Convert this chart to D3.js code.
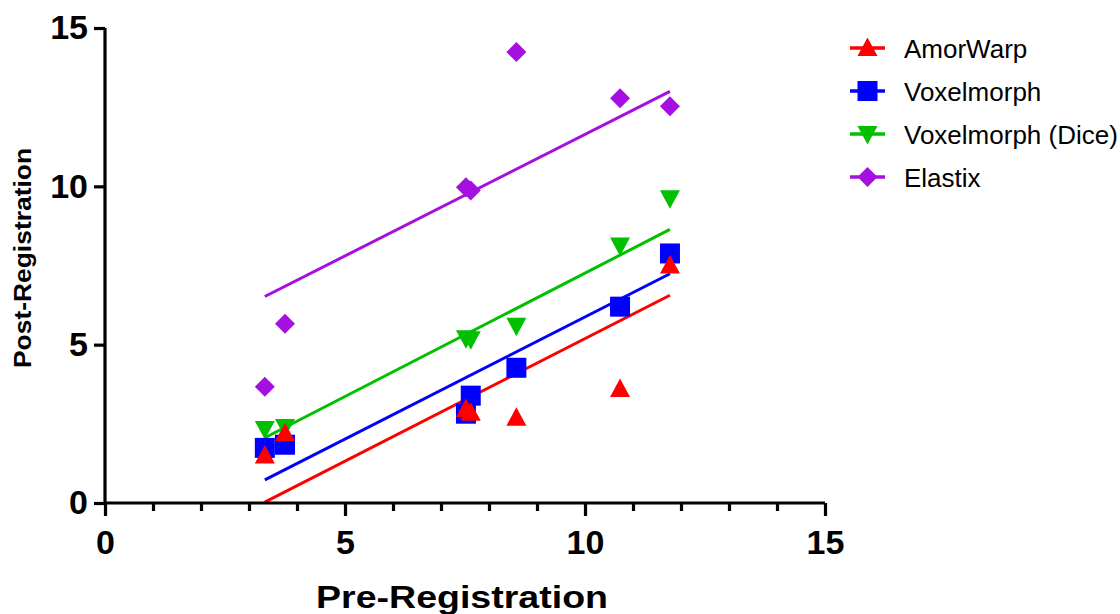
<!DOCTYPE html>
<html><head><meta charset="utf-8">
<script src="https://cdn.jsdelivr.net/npm/d3@7"></script>
<style>html,body{margin:0;padding:0;background:#fff;}svg{display:block;}</style>
</head><body>
<script>
const seriesNames = ["AmorWarp", "Voxelmorph", "Voxelmorph (Dice)", "Elastix"];
const preValues = [3.33, 3.75, 7.52, 7.62, 8.57, 10.73, 11.77];
const amorWarp = [1.5, 2.2, 2.97, 2.85, 2.69, 3.6, 7.5];
const voxelmorph = [1.74, 1.84, 2.82, 3.39, 4.27, 6.2, 7.88];
const voxelmorphDice = [2.34, 2.4, 5.2, 5.17, 5.6, 8.13, 9.62];
const elastix = [3.67, 5.66, 9.97, 9.87, 14.24, 12.78, 12.53];
// fitted line endpoints [y at first x, y at last x]
const fitStart = [0.03, 0.73, 2.06, 6.52];
const fitEnd = [6.56, 7.24, 8.64, 13.0];
const xTicks = [0, 5, 10, 15];
const yTicks = [0, 5, 10, 15];
const colors = ["#ff0000", "#0000ff", "#00c000", "#a50fdf"];
const symbols = ["triangle", "square", "triangleDown", "diamond"];

const W = 1120, H = 614;
const svg = d3.select("body").append("svg").attr("width", W).attr("height", H);
const x = d3.scaleLinear().domain([0, 15]).range([105, 825]);
const y = d3.scaleLinear().domain([0, 15]).range([503, 28]);

const allValues = [amorWarp, voxelmorph, voxelmorphDice, elastix];

function markerPath(type, s) {
  const h = s / 2;
  if (type === "square") return `M${-h},${-h}H${h}V${h}H${-h}Z`;
  if (type === "triangle") return `M0,${-h * 1.05}L${h},${h * 0.8}L${-h},${h * 0.8}Z`;
  if (type === "triangleDown") return `M0,${h * 1.05}L${h},${-h * 0.8}L${-h},${-h * 0.8}Z`;
  if (type === "diamond") return `M0,${-h}L${h},0L0,${h}L${-h},0Z`;
}

// fit lines
allValues.forEach((vals, i) => {
  svg.append("line")
    .attr("x1", x(preValues[0])).attr("y1", y(fitStart[i]))
    .attr("x2", x(preValues[preValues.length - 1])).attr("y2", y(fitEnd[i]))
    .attr("stroke", colors[i]).attr("stroke-width", 3);
});

// points (red drawn last so it is on top)
[3, 2, 1, 0].forEach(i => {
  svg.append("g").selectAll("path").data(allValues[i]).join("path")
    .attr("transform", (d, j) => `translate(${x(preValues[j])},${y(d)})`)
    .attr("d", markerPath(symbols[i], 20))
    .attr("fill", colors[i]);
});

// axes
const font = "'Liberation Sans', Arial, sans-serif";
const xAxis = svg.append("g").attr("transform", `translate(0,${y(0)})`)
  .call(d3.axisBottom(x).tickValues(xTicks).tickSize(13).tickPadding(14).tickFormat(d3.format("d")));
const xMinor = svg.append("g").attr("transform", `translate(0,${y(0)})`)
  .call(d3.axisBottom(x).tickValues(d3.range(1, 15).filter(v => v % 5 !== 0)).tickSize(8).tickFormat(""));
xMinor.select(".domain").remove();
const yAxis = svg.append("g").attr("transform", `translate(${x(0)},0)`)
  .call(d3.axisLeft(y).tickValues(yTicks).tickSize(11).tickPadding(6).tickFormat(d3.format("d")));

[xAxis, xMinor, yAxis].forEach(g => {
  g.selectAll(".domain").attr("stroke", "#000").attr("stroke-width", 3.2);
  g.selectAll(".tick line").attr("stroke", "#000").attr("stroke-width", 3.2);
  g.selectAll(".tick text").attr("fill", "#000").style("font-family", font)
    .style("font-size", "34px").style("font-weight", "bold");
});
xAxis.select(".domain").attr("d", `M${x(0)},0H${x(15)}`);
yAxis.select(".domain").attr("d", `M0,${y(15)}V${y(0)}`);

svg.append("text").attr("x", 462).attr("y", 608).attr("text-anchor", "middle")
  .attr("textLength", 292).attr("lengthAdjust", "spacingAndGlyphs")
  .style("font-family", font).style("font-size", "32px").style("font-weight", "bold")
  .text("Pre-Registration");
svg.append("text").attr("transform", `translate(31,258) rotate(-90)`).attr("text-anchor", "middle")
  .attr("textLength", 220).attr("lengthAdjust", "spacingAndGlyphs")
  .style("font-family", font).style("font-size", "24px").style("font-weight", "bold")
  .text("Post-Registration");

// legend
const legend = svg.append("g");
seriesNames.forEach((name, i) => {
  const cy = 48 + i * 43;
  legend.append("line").attr("x1", 850).attr("x2", 885).attr("y1", cy).attr("y2", cy)
    .attr("stroke", colors[i]).attr("stroke-width", 3.5);
  legend.append("path").attr("transform", `translate(867.5,${cy})`)
    .attr("d", markerPath(symbols[i], 20)).attr("fill", colors[i]);
  legend.append("text").attr("x", 904).attr("y", cy + 9.5)
    .style("font-family", font).style("font-size", "26px").attr("fill", "#000")
    .text(name);
});
</script>
</body></html>
